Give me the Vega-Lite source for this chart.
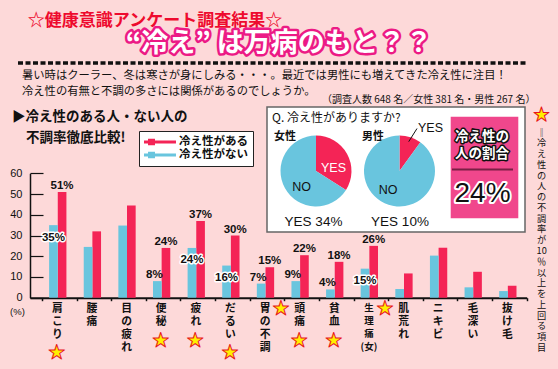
{
  "$schema": "https://vega.github.io/schema/vega-lite/v6.json",
  "width": 558,
  "height": 369,
  "autosize": "none",
  "padding": 0,
  "background": "#FDD9D9",
  "config": {"view": {"stroke": null}, "text": {"font": "Noto Sans CJK JP"}},
  "datasets": {
    "bars": [
      {"cat": "肩こり", "series": "冷え性がある", "value": 51, "label": "51%", "star": true},
      {"cat": "肩こり", "series": "冷え性がない", "value": 35, "label": "35%", "star": true},
      {"cat": "腰痛", "series": "冷え性がある", "value": 32, "label": "", "star": false},
      {"cat": "腰痛", "series": "冷え性がない", "value": 24.5, "label": "", "star": false},
      {"cat": "目の疲れ", "series": "冷え性がある", "value": 44.5, "label": "", "star": false},
      {"cat": "目の疲れ", "series": "冷え性がない", "value": 34.8, "label": "", "star": false},
      {"cat": "便秘", "series": "冷え性がある", "value": 24, "label": "24%", "star": true},
      {"cat": "便秘", "series": "冷え性がない", "value": 8, "label": "8%", "star": true},
      {"cat": "疲れ", "series": "冷え性がある", "value": 37, "label": "37%", "star": true},
      {"cat": "疲れ", "series": "冷え性がない", "value": 24, "label": "24%", "star": true},
      {"cat": "だるい", "series": "冷え性がある", "value": 30, "label": "30%", "star": true},
      {"cat": "だるい", "series": "冷え性がない", "value": 15.5, "label": "16%", "star": true},
      {"cat": "胃の不調", "series": "冷え性がある", "value": 14.7, "label": "15%", "star": true},
      {"cat": "胃の不調", "series": "冷え性がない", "value": 6.8, "label": "7%", "star": true},
      {"cat": "頭痛", "series": "冷え性がある", "value": 20.5, "label": "22%", "star": true},
      {"cat": "頭痛", "series": "冷え性がない", "value": 8, "label": "9%", "star": true},
      {"cat": "貧血", "series": "冷え性がある", "value": 17.3, "label": "18%", "star": true},
      {"cat": "貧血", "series": "冷え性がない", "value": 4, "label": "4%", "star": true},
      {"cat": "生理痛(女)", "series": "冷え性がある", "value": 25, "label": "26%", "star": true},
      {"cat": "生理痛(女)", "series": "冷え性がない", "value": 14, "label": "15%", "star": true},
      {"cat": "肌荒れ", "series": "冷え性がある", "value": 11.7, "label": "", "star": false},
      {"cat": "肌荒れ", "series": "冷え性がない", "value": 4.2, "label": "", "star": false},
      {"cat": "ニキビ", "series": "冷え性がある", "value": 24.1, "label": "", "star": false},
      {"cat": "ニキビ", "series": "冷え性がない", "value": 20.3, "label": "", "star": false},
      {"cat": "毛深い", "series": "冷え性がある", "value": 12.5, "label": "", "star": false},
      {"cat": "毛深い", "series": "冷え性がない", "value": 5, "label": "", "star": false},
      {"cat": "抜け毛", "series": "冷え性がある", "value": 5.8, "label": "", "star": false},
      {"cat": "抜け毛", "series": "冷え性がない", "value": 3.2, "label": "", "star": false}
    ],
    "pies": [
      {"gender": "女性", "answer": "YES", "pct": 34},
      {"gender": "女性", "answer": "NO", "pct": 66},
      {"gender": "男性", "answer": "YES", "pct": 10},
      {"gender": "男性", "answer": "NO", "pct": 90}
    ]
  },
  "resolve": {"scale": {"color": "independent"}},
  "layer": [
    {
      "data": {"values": [{"t": "☆健康意識アンケート調査結果☆"}]},
      "mark": {"type": "text", "fontSize": 17, "fontWeight": "bold", "color": "#EE0A2E", "align": "center", "baseline": "middle"},
      "encoding": {"x": {"value": 155}, "y": {"value": 20.5}, "text": {"field": "t"}}
    },
    {
      "data": {"values": [{"t": "“冷え” は万病のもと？？"}]},
      "mark": {"type": "text", "fontSize": 27, "fontWeight": "bold", "color": "#EC1A85", "stroke": "#EC1A85", "strokeWidth": 5, "strokeJoin": "round", "align": "center", "baseline": "middle"},
      "encoding": {"x": {"value": 279}, "y": {"value": 44}, "text": {"field": "t"}}
    },
    {
      "data": {"values": [{"t": "“冷え” は万病のもと？？"}]},
      "mark": {"type": "text", "fontSize": 27, "fontWeight": "bold", "color": "#FFFFFF", "align": "center", "baseline": "middle"},
      "encoding": {"x": {"value": 279}, "y": {"value": 44}, "text": {"field": "t"}}
    },
    {
      "data": {"values": [{}]},
      "mark": {"type": "rule", "color": "#111111", "strokeWidth": 3.5, "strokeDash": [5, 2.5]},
      "encoding": {"x": {"value": 18}, "x2": {"value": 528}, "y": {"value": 63}}
    },
    {
      "data": {"values": [{"t": "　暑い時はクーラー、冬は寒さが身にしみる・・・。最近では男性にも増えてきた冷え性に注目！"}]},
      "mark": {"type": "text", "fontSize": 11.3, "color": "#111111", "align": "left", "baseline": "middle"},
      "encoding": {"x": {"value": 22}, "y": {"value": 75.5}, "text": {"field": "t"}}
    },
    {
      "data": {"values": [{"t": "冷え性の有無と不調の多さには関係があるのでしょうか。"}]},
      "mark": {"type": "text", "fontSize": 11.3, "color": "#111111", "align": "left", "baseline": "middle"},
      "encoding": {"x": {"value": 22}, "y": {"value": 92}, "text": {"field": "t"}}
    },
    {
      "data": {"values": [{"t": "（調査人数 648 名／女性 381 名・男性 267 名）"}]},
      "mark": {"type": "text", "fontSize": 10, "color": "#111111", "align": "left", "baseline": "middle"},
      "encoding": {"x": {"value": 322}, "y": {"value": 99.5}, "text": {"field": "t"}}
    },
    {
      "data": {"values": [{"t": "▶冷え性のある人・ない人の"}]},
      "mark": {"type": "text", "fontSize": 13.5, "fontWeight": "bold", "color": "#111111", "align": "left", "baseline": "middle"},
      "encoding": {"x": {"value": 12}, "y": {"value": 117}, "text": {"field": "t"}}
    },
    {
      "data": {"values": [{"t": "不調率徹底比較!"}]},
      "mark": {"type": "text", "fontSize": 13.5, "fontWeight": "bold", "color": "#111111", "align": "left", "baseline": "middle"},
      "encoding": {"x": {"value": 26}, "y": {"value": 138}, "text": {"field": "t"}}
    },
    {
      "data": {"name": "bars"},
      "mark": {"type": "bar"},
      "encoding": {
        "x": {
          "field": "cat", "type": "nominal", "sort": null,
          "scale": {"range": [30, 526.7], "paddingInner": 0, "paddingOuter": 0.1735, "align": 1},
          "axis": {
            "title": null, "orient": "bottom", "offset": -71.3,
            "domainColor": "#111111", "domainWidth": 2,
            "tickBand": "extent", "tickSize": 3, "tickColor": "#111111", "tickWidth": 1.5,
            "labelAngle": 0, "labelBaseline": "top", "labelPadding": 2,
            "labelFont": "Noto Sans CJK JP", "labelFontWeight": "bold", "labelColor": "#111111",
            "labelFontSize": {"condition": {"test": "datum.label == '生理痛(女)'", "value": 9.5}, "value": 10.8},
            "labelLineHeight": 13, "labelOverlap": false, "labelOffset": -2.5,
            "labelExpr": "datum.label == '生理痛(女)' ? ['生','理','痛','(女)'] : split(datum.label, '')"
          }
        },
        "xOffset": {"field": "series", "type": "nominal", "sort": ["冷え性がない", "冷え性がある"], "scale": {"paddingInner": 0, "paddingOuter": 1.28, "align": 0.41}},
        "y": {
          "field": "value", "type": "quantitative",
          "scale": {"domain": [0, 60], "range": [297.7, 173.3], "nice": false},
          "axis": {
            "title": "(%)", "orient": "left", "offset": -30, "values": [0, 10, 20, 30, 40, 50, 60],
            "domainColor": "#111111", "domainWidth": 1.5, "grid": false,
            "tickSize": -13, "tickColor": "#111111", "tickWidth": 1.2,
            "labelPadding": 21, "labelFontSize": 11, "labelFont": "Liberation Sans", "labelColor": "#111111",
            "titleAngle": 0, "titleX": -13, "titleY": 311, "titleFontSize": 9.5, "titleFontWeight": "normal",
            "titleAlign": "center", "titleBaseline": "middle", "titleFont": "Liberation Sans", "titleColor": "#111111"
          }
        },
        "color": {
          "field": "series", "type": "nominal",
          "scale": {"domain": ["冷え性がある", "冷え性がない"], "range": ["#F42456", "#69C5DE"]},
          "legend": {
            "orient": "none", "legendX": 139, "legendY": 131, "title": null,
            "symbolType": "M-1,-0.25H4.33V0.25H-1Z M-0.33,-0.55H0.83V0.55H-0.33Z",
            "symbolSize": 144, "symbolStrokeWidth": 0,
            "labelFontSize": 11.5, "labelFontWeight": "bold", "labelFont": "Noto Sans CJK JP", "labelColor": "#111111",
            "labelOffset": 23, "padding": 5, "fillColor": "#FFFFFF", "strokeColor": "#222222", "rowPadding": 1
          }
        }
      }
    },
    {
      "data": {"name": "bars"},
      "transform": [{"filter": "datum.star && datum.series == '冷え性がある'"}],
      "mark": {"type": "text", "font": "Liberation Sans", "fontSize": 11.5, "fontWeight": "bold", "color": "#111111", "baseline": "bottom", "dy": -1},
      "encoding": {
        "x": {"field": "cat", "type": "nominal", "sort": null},
        "xOffset": {"field": "series", "type": "nominal", "sort": ["冷え性がない", "冷え性がある"]},
        "y": {"field": "value", "type": "quantitative"},
        "text": {"field": "label"}
      }
    },
    {
      "data": {"name": "bars"},
      "transform": [{"filter": "datum.star && datum.series == '冷え性がない' && datum.value >= 12"}],
      "mark": {"type": "text", "font": "Liberation Sans", "fontSize": 11.5, "fontWeight": "bold", "color": "#FFFFFF", "stroke": "#FFFFFF", "strokeWidth": 3, "strokeJoin": "round", "baseline": "middle", "dy": 12.5},
      "encoding": {
        "x": {"field": "cat", "type": "nominal", "sort": null},
        "xOffset": {"field": "series", "type": "nominal", "sort": ["冷え性がない", "冷え性がある"]},
        "y": {"field": "value", "type": "quantitative"},
        "text": {"field": "label"}
      }
    },
    {
      "data": {"name": "bars"},
      "transform": [{"filter": "datum.star && datum.series == '冷え性がない' && datum.value >= 12"}],
      "mark": {"type": "text", "font": "Liberation Sans", "fontSize": 11.5, "fontWeight": "bold", "color": "#111111", "baseline": "middle", "dy": 12.5},
      "encoding": {
        "x": {"field": "cat", "type": "nominal", "sort": null},
        "xOffset": {"field": "series", "type": "nominal", "sort": ["冷え性がない", "冷え性がある"]},
        "y": {"field": "value", "type": "quantitative"},
        "text": {"field": "label"}
      }
    },
    {
      "data": {"name": "bars"},
      "transform": [{"filter": "datum.star && datum.series == '冷え性がない' && datum.value < 12"}],
      "mark": {"type": "text", "font": "Liberation Sans", "fontSize": 11.5, "fontWeight": "bold", "color": "#111111", "baseline": "bottom", "dy": -1, "dx": -3},
      "encoding": {
        "x": {"field": "cat", "type": "nominal", "sort": null},
        "xOffset": {"field": "series", "type": "nominal", "sort": ["冷え性がない", "冷え性がある"]},
        "y": {"field": "value", "type": "quantitative"},
        "text": {"field": "label"}
      }
    },
    {
      "data": {"name": "bars"},
      "transform": [{"filter": "datum.star && datum.series == '冷え性がある' && length(datum.cat) == 2"}],
      "mark": {"type": "text", "text": "★", "fontSize": 16.5, "color": "#FFF000", "stroke": "#E8141E", "strokeWidth": 1, "baseline": "middle", "dy": 43, "dx": -2.5},
      "encoding": {"x": {"field": "cat", "type": "nominal", "sort": null}, "y": {"datum": 0}}
    },
    {
      "data": {"name": "bars"},
      "transform": [{"filter": "datum.star && datum.series == '冷え性がある' && length(datum.cat) == 3"}],
      "mark": {"type": "text", "text": "★", "fontSize": 16.5, "color": "#FFF000", "stroke": "#E8141E", "strokeWidth": 1, "baseline": "middle", "dy": 55, "dx": -2.5},
      "encoding": {"x": {"field": "cat", "type": "nominal", "sort": null}, "y": {"datum": 0}}
    },
    {
      "data": {"name": "bars"},
      "transform": [{"filter": "datum.star && datum.series == '冷え性がある' && length(datum.cat) >= 4"}],
      "mark": {"type": "text", "text": "★", "fontSize": 16.5, "color": "#FFF000", "stroke": "#E8141E", "strokeWidth": 1, "baseline": "middle", "dy": 11, "dx": 14},
      "encoding": {"x": {"field": "cat", "type": "nominal", "sort": null}, "y": {"datum": 0}}
    },
    {
      "data": {"values": [{}]},
      "mark": {"type": "rect", "fill": "#FFFFFF", "stroke": "#666666", "strokeWidth": 1.5},
      "encoding": {"x": {"value": 267}, "x2": {"value": 525}, "y": {"value": 107}, "y2": {"value": 232}}
    },
    {
      "data": {"values": [{"t": "Q. 冷え性がありますか?"}]},
      "mark": {"type": "text", "fontSize": 12, "color": "#111111", "align": "left", "baseline": "middle"},
      "encoding": {"x": {"value": 272}, "y": {"value": 118}, "text": {"field": "t"}}
    },
    {
      "data": {"values": [{"t": "女性"}]},
      "mark": {"type": "text", "fontSize": 11, "fontWeight": "bold", "color": "#111111", "align": "left", "baseline": "middle"},
      "encoding": {"x": {"value": 274}, "y": {"value": 137}, "text": {"field": "t"}}
    },
    {
      "data": {"values": [{"t": "男性"}]},
      "mark": {"type": "text", "fontSize": 11, "fontWeight": "bold", "color": "#111111", "align": "left", "baseline": "middle"},
      "encoding": {"x": {"value": 362}, "y": {"value": 137}, "text": {"field": "t"}}
    },
    {
      "data": {"name": "pies"},
      "transform": [{"filter": "datum.gender == '女性'"}],
      "mark": {"type": "arc", "outerRadius": 35.5},
      "encoding": {
        "theta": {"field": "pct", "type": "quantitative", "stack": true},
        "order": {"field": "answer", "sort": "descending"},
        "color": {"field": "answer", "type": "nominal", "scale": {"domain": ["YES", "NO"], "range": ["#F42456", "#69C5DE"]}, "legend": null},
        "x": {"value": 316},
        "y": {"value": 171}
      }
    },
    {
      "data": {"name": "pies"},
      "transform": [{"filter": "datum.gender == '男性'"}],
      "mark": {"type": "arc", "outerRadius": 35.5},
      "encoding": {
        "theta": {"field": "pct", "type": "quantitative", "stack": true},
        "order": {"field": "answer", "sort": "descending"},
        "color": {"field": "answer", "type": "nominal", "scale": {"domain": ["YES", "NO"], "range": ["#F42456", "#69C5DE"]}, "legend": null},
        "x": {"value": 399.5},
        "y": {"value": 171}
      }
    },
    {
      "data": {"values": [{"t": "YES"}]},
      "mark": {"type": "text", "font": "Liberation Sans", "fontSize": 12.5, "color": "#FFFFFF", "align": "center", "baseline": "middle"},
      "encoding": {"x": {"value": 333.5}, "y": {"value": 168}, "text": {"field": "t"}}
    },
    {
      "data": {"values": [{"t": "NO"}]},
      "mark": {"type": "text", "font": "Liberation Sans", "fontSize": 12.5, "color": "#111111", "align": "center", "baseline": "middle"},
      "encoding": {"x": {"value": 301.5}, "y": {"value": 187}, "text": {"field": "t"}}
    },
    {
      "data": {"values": [{"t": "NO"}]},
      "mark": {"type": "text", "font": "Liberation Sans", "fontSize": 12.5, "color": "#111111", "align": "center", "baseline": "middle"},
      "encoding": {"x": {"value": 388}, "y": {"value": 190}, "text": {"field": "t"}}
    },
    {
      "data": {"values": [{"t": "YES"}]},
      "mark": {"type": "text", "font": "Liberation Sans", "fontSize": 12.5, "color": "#111111", "align": "center", "baseline": "middle"},
      "encoding": {"x": {"value": 430.5}, "y": {"value": 128}, "text": {"field": "t"}}
    },
    {
      "data": {"values": [{}]},
      "mark": {"type": "rule", "color": "#111111", "strokeWidth": 1},
      "encoding": {"x": {"value": 408.7}, "y": {"value": 141.7}, "x2": {"value": 417}, "y2": {"value": 128.5}}
    },
    {
      "data": {"values": [{"t": "YES 34%"}]},
      "mark": {"type": "text", "font": "Liberation Sans", "fontSize": 13.5, "color": "#111111", "align": "center", "baseline": "middle"},
      "encoding": {"x": {"value": 313.5}, "y": {"value": 222}, "text": {"field": "t"}}
    },
    {
      "data": {"values": [{"t": "YES 10%"}]},
      "mark": {"type": "text", "font": "Liberation Sans", "fontSize": 13.5, "color": "#111111", "align": "center", "baseline": "middle"},
      "encoding": {"x": {"value": 400}, "y": {"value": 222}, "text": {"field": "t"}}
    },
    {
      "data": {"values": [{}]},
      "mark": {"type": "rect", "fill": "#F0478C"},
      "encoding": {"x": {"value": 450.7}, "x2": {"value": 518.3}, "y": {"value": 116.7}, "y2": {"value": 218.3}}
    },
    {
      "data": {"values": [{}]},
      "mark": {"type": "text", "text": ["冷え性の", "人の割合"], "lineHeight": 17, "fontSize": 13.5, "fontWeight": "bold", "color": "#111111", "stroke": "#111111", "strokeWidth": 3, "strokeJoin": "round", "align": "center", "baseline": "top"},
      "encoding": {"x": {"value": 482}, "y": {"value": 130}}
    },
    {
      "data": {"values": [{}]},
      "mark": {"type": "text", "text": ["冷え性の", "人の割合"], "lineHeight": 17, "fontSize": 13.5, "fontWeight": "bold", "color": "#FFFFFF", "align": "center", "baseline": "top"},
      "encoding": {"x": {"value": 482}, "y": {"value": 130}}
    },
    {
      "data": {"values": [{}]},
      "mark": {"type": "rule", "color": "#7A1F45", "strokeWidth": 2},
      "encoding": {"x": {"value": 452}, "x2": {"value": 513}, "y": {"value": 169.5}}
    },
    {
      "data": {"values": [{"t": "24%"}]},
      "mark": {"type": "text", "font": "Liberation Sans", "fontSize": 28, "color": "#FFFFFF", "stroke": "#FFFFFF", "strokeWidth": 4, "strokeJoin": "round", "align": "center", "baseline": "middle"},
      "encoding": {"x": {"value": 482.5}, "y": {"value": 194}, "text": {"field": "t"}}
    },
    {
      "data": {"values": [{"t": "24%"}]},
      "mark": {"type": "text", "font": "Liberation Sans", "fontSize": 28, "color": "#111111", "align": "center", "baseline": "middle"},
      "encoding": {"x": {"value": 482.5}, "y": {"value": 194}, "text": {"field": "t"}}
    },
    {
      "data": {"values": [{}]},
      "mark": {"type": "text", "text": "★", "fontSize": 16, "color": "#FFF000", "stroke": "#E8141E", "strokeWidth": 1, "align": "center", "baseline": "middle"},
      "encoding": {"x": {"value": 541.5}, "y": {"value": 115}}
    },
    {
      "data": {"values": [{}]},
      "mark": {"type": "text", "text": ["‖", "冷", "え", "性", "の", "人", "の", "不", "調", "率", "が", "10", "％", "以", "上", "を", "上", "回", "る", "項", "目"], "lineHeight": 10.77, "fontSize": 9.2, "color": "#111111", "align": "center", "baseline": "top"},
      "encoding": {"x": {"value": 541.7}, "y": {"value": 128.5}}
    }
  ]
}
